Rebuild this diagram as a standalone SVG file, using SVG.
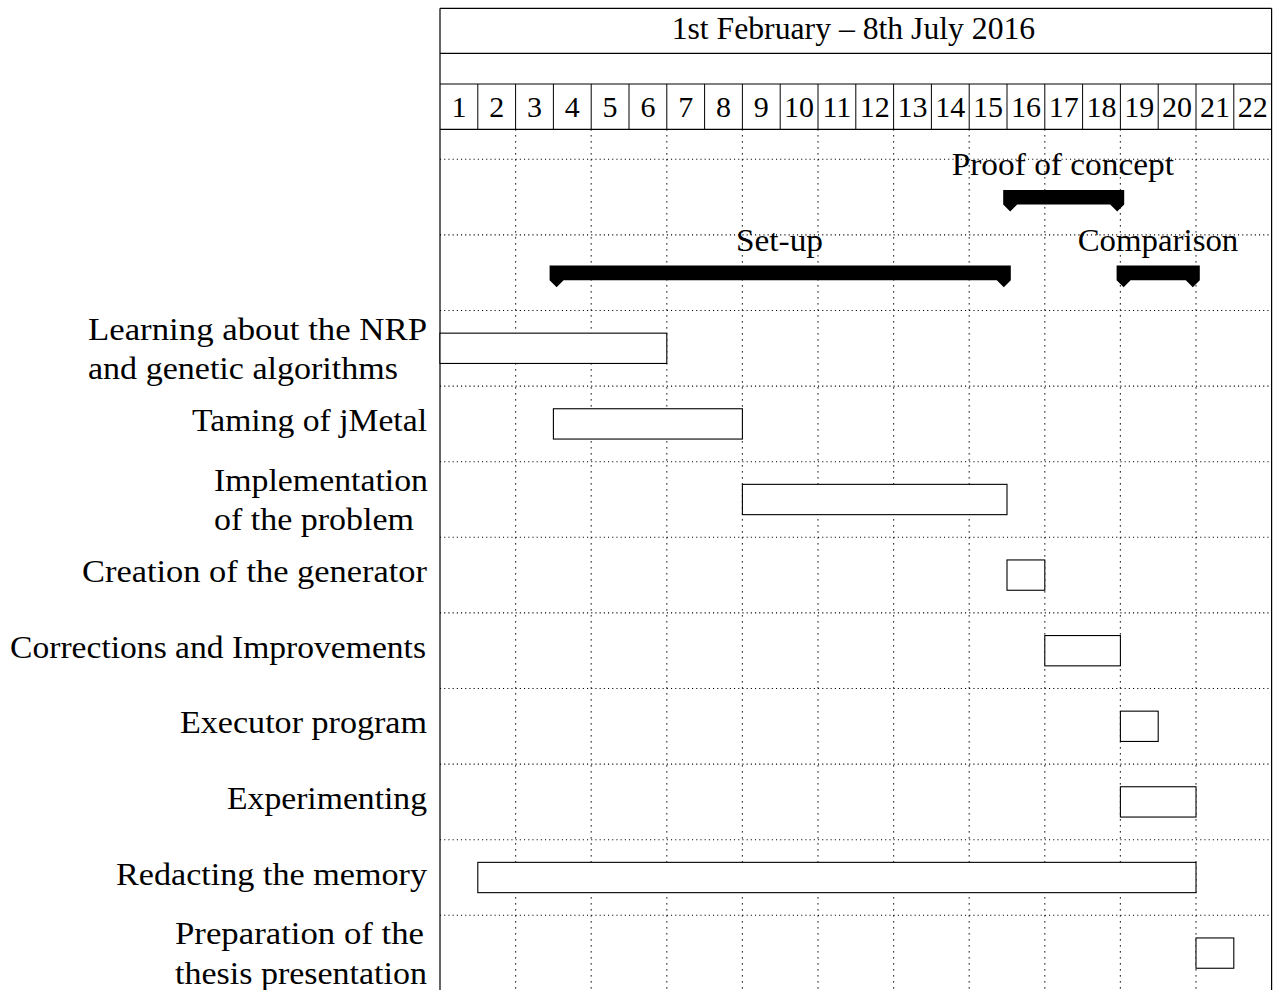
<svg xmlns="http://www.w3.org/2000/svg" width="1282" height="990" viewBox="0 0 1282 990">
<style>
text{font-family:"Liberation Serif","Times New Roman",serif;font-size:31px;fill:#000}
.num{font-size:30px;text-anchor:middle}
.frame{stroke:#000;stroke-width:1.2;fill:none}
.cell{stroke:#000;stroke-width:1;fill:none}
.hg{stroke:#000;stroke-width:1.1;stroke-dasharray:1.1 3.1;fill:none}
.vg{stroke:#000;stroke-width:1.2;stroke-dasharray:1.2 4.8;fill:none}
.bar{fill:#fff;stroke:#000;stroke-width:1.1}
.grp{fill:#000;stroke:none}
</style>
<rect width="1282" height="990" fill="#fff"/>
<g id="grid">
<path class="hg" d="M440 159.3H1271.6M440 234.9H1271.6M440 310.5H1271.6M440 386.1H1271.6M440 461.7H1271.6M440 537.3H1271.6M440 612.9H1271.6M440 688.5H1271.6M440 764.1H1271.6M440 839.7H1271.6M440 915.3H1271.6"/>
<path class="vg" d="M515.6 129.3V990M591.2 129.3V990M666.8 129.3V990M742.4 129.3V990M818 129.3V990M893.6 129.3V990M969.2 129.3V990M1044.8 129.3V990M1120.4 129.3V990M1196 129.3V990"/>
</g>
<g id="header">
<path class="frame" d="M440 8.3H1271.6M440 53.3H1271.6M440 84H1271.6M440 129.3H1271.6M440 8.3V990M1271.6 8.3V990"/>
<path class="cell" d="M477.8 84V129.3M515.6 84V129.3M553.4 84V129.3M591.2 84V129.3M629 84V129.3M666.8 84V129.3M704.6 84V129.3M742.4 84V129.3M780.2 84V129.3M818 84V129.3M855.8 84V129.3M893.6 84V129.3M931.4 84V129.3M969.2 84V129.3M1007 84V129.3M1044.8 84V129.3M1082.6 84V129.3M1120.4 84V129.3M1158.2 84V129.3M1196 84V129.3M1233.8 84V129.3"/>
<text x="671.7" y="38.5" textLength="363.5" lengthAdjust="spacingAndGlyphs">1st February – 8th July 2016</text>
<text class="num" x="458.9" y="117">1</text>
<text class="num" x="496.7" y="117">2</text>
<text class="num" x="534.5" y="117">3</text>
<text class="num" x="572.3" y="117">4</text>
<text class="num" x="610.1" y="117">5</text>
<text class="num" x="647.9" y="117">6</text>
<text class="num" x="685.7" y="117">7</text>
<text class="num" x="723.5" y="117">8</text>
<text class="num" x="761.3" y="117">9</text>
<text class="num" x="799.1" y="117">10</text>
<text class="num" x="836.9" y="117">11</text>
<text class="num" x="874.7" y="117">12</text>
<text class="num" x="912.5" y="117">13</text>
<text class="num" x="950.3" y="117">14</text>
<text class="num" x="988.1" y="117">15</text>
<text class="num" x="1025.9" y="117">16</text>
<text class="num" x="1063.7" y="117">17</text>
<text class="num" x="1101.5" y="117">18</text>
<text class="num" x="1139.3" y="117">19</text>
<text class="num" x="1177.1" y="117">20</text>
<text class="num" x="1214.9" y="117">21</text>
<text class="num" x="1252.7" y="117">22</text>
</g>
<g id="group-proof">
<polygon class="grp" points="1003.2,190 1124.2,190 1124.2,204.5 1117.2,211.5 1110.2,204.5 1017.2,204.5 1010.2,211.5 1003.2,204.5"/>
<text x="951.7" y="175" textLength="222.3" lengthAdjust="spacingAndGlyphs">Proof of concept</text>
</g>
<g id="group-setup">
<polygon class="grp" points="549.6,265.6 1010.8,265.6 1010.8,280.3 1003.8,287.3 996.8,280.3 563.6,280.3 556.6,287.3 549.6,280.3"/>
<text x="736" y="251" textLength="87" lengthAdjust="spacingAndGlyphs">Set-up</text>
</g>
<g id="group-comparison">
<polygon class="grp" points="1116.6,265.6 1199.8,265.6 1199.8,280.3 1192.8,287.3 1185.8,280.3 1130.6,280.3 1123.6,287.3 1116.6,280.3"/>
<text x="1077.7" y="251" textLength="160.6" lengthAdjust="spacingAndGlyphs">Comparison</text>
</g>
<g id="task-learning">
<rect class="bar" x="440" y="333.15" width="226.8" height="30.3"/>
<text x="88" y="340" textLength="339" lengthAdjust="spacingAndGlyphs">Learning about the NRP</text>
<text x="88" y="379" textLength="310" lengthAdjust="spacingAndGlyphs">and genetic algorithms</text>
</g>
<g id="task-taming">
<rect class="bar" x="553.4" y="408.75" width="189" height="30.3"/>
<text x="192" y="431" textLength="235" lengthAdjust="spacingAndGlyphs">Taming of jMetal</text>
</g>
<g id="task-implementation">
<rect class="bar" x="742.4" y="484.35" width="264.6" height="30.3"/>
<text x="214" y="491" textLength="214" lengthAdjust="spacingAndGlyphs">Implementation</text>
<text x="214" y="530" textLength="200" lengthAdjust="spacingAndGlyphs">of the problem</text>
</g>
<g id="task-generator">
<rect class="bar" x="1007" y="559.95" width="37.8" height="30.3"/>
<text x="82" y="582" textLength="345" lengthAdjust="spacingAndGlyphs">Creation of the generator</text>
</g>
<g id="task-corrections">
<rect class="bar" x="1044.8" y="635.55" width="75.6" height="30.3"/>
<text x="10" y="657.5" textLength="416" lengthAdjust="spacingAndGlyphs">Corrections and Improvements</text>
</g>
<g id="task-executor">
<rect class="bar" x="1120.4" y="711.15" width="37.8" height="30.3"/>
<text x="180" y="733" textLength="247" lengthAdjust="spacingAndGlyphs">Executor program</text>
</g>
<g id="task-experimenting">
<rect class="bar" x="1120.4" y="786.75" width="75.6" height="30.3"/>
<text x="227" y="809" textLength="200" lengthAdjust="spacingAndGlyphs">Experimenting</text>
</g>
<g id="task-memory">
<rect class="bar" x="477.8" y="862.35" width="718.2" height="30.3"/>
<text x="116" y="884.5" textLength="311" lengthAdjust="spacingAndGlyphs">Redacting the memory</text>
</g>
<g id="task-presentation">
<rect class="bar" x="1196" y="937.95" width="37.8" height="30.3"/>
<text x="175" y="944" textLength="249" lengthAdjust="spacingAndGlyphs">Preparation of the</text>
<text x="175" y="983.5" textLength="252" lengthAdjust="spacingAndGlyphs">thesis presentation</text>
</g>
<g id="connectors"></g>
</svg>
